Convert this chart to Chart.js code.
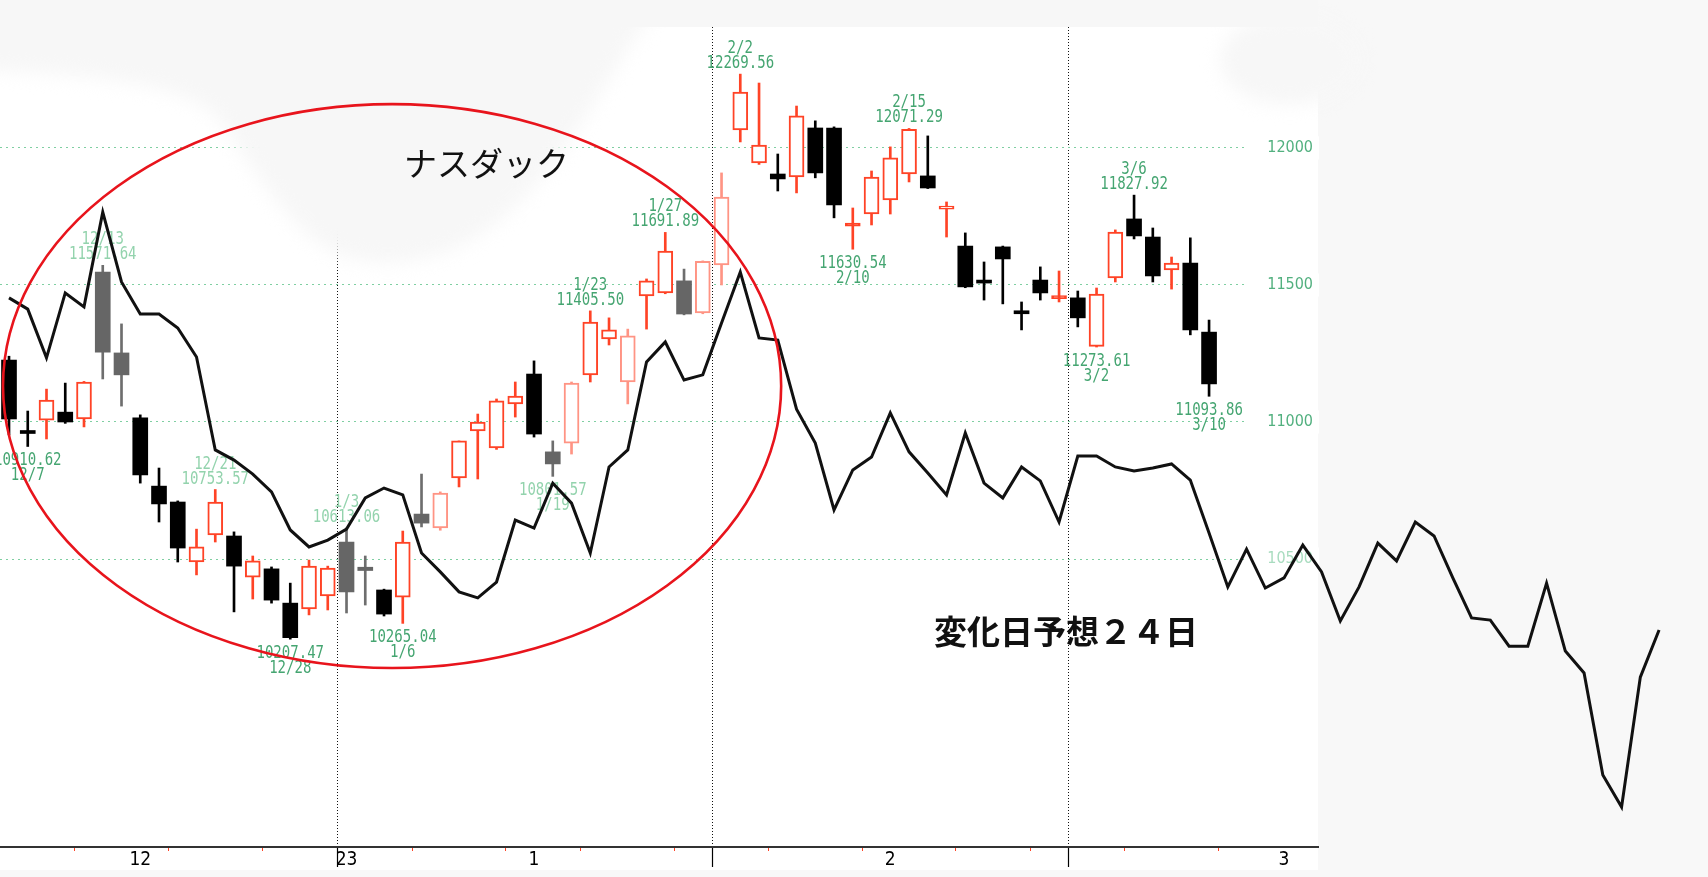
<!DOCTYPE html>
<html>
<head>
<meta charset="utf-8">
<title>ナスダック 変化日予想</title>
<script src="https://cdn.jsdelivr.net/npm/chart.js@4.4.1/dist/chart.umd.min.js"></script>
<style>
html, body {
    margin: 0;
    padding: 0;
    background: #fff;
}
#chart {
    display: block;
}
</style>
</head>
<body>
<canvas id="chart" width="1708" height="877"></canvas>
<script>
// trading days shown as candles
const days = ['12/6','12/7','12/8','12/9','12/12','12/13','12/14','12/15','12/16','12/19','12/20','12/21','12/22','12/23','12/27','12/28','12/29','12/30',
    '1/3','1/4','1/5','1/6','1/9','1/10','1/11','1/12','1/13','1/17','1/18','1/19','1/20','1/23','1/24','1/25','1/26','1/27','1/30','1/31',
    '2/1','2/2','2/3','2/6','2/7','2/8','2/9','2/10','2/13','2/14','2/15','2/16','2/17','2/21','2/22','2/23','2/24','2/27','2/28',
    '3/1','3/2','3/3','3/6','3/7','3/8','3/9','3/10'];

const opens = [11226,10962,11007,11036,11011,11547,11252,11015,10766,10708,10489,10588,10584,10434,10464,10339,10318,10365,
    10562,10470,10387,10361,10664,10613,10796,10967,10905,11066,11175,10891,10923,11172,11303,11146,11460,11471,11515,11398,
    11573,12066,11945,11905,11894,12073,12073,11715,11759,11810,11905,11898,11777,11642,11517,11639,11405,11518,11450,
    11453,11276,11526,11741,11675,11555,11580,11328];
const highs = [11240,11040,11120,11142,11148,11571.64,11358,11026,10832,10712,10609,10753.57,10599,10511,10471,10412,10496,10474,
    10613.06,10511,10390,10602,10810,10745,10931,11029,11084,11146,11223,10931,11146,11405.5,11380,11339,11522,11691.89,11558,11588,
    11909,12269.56,12237,11978,12153,12099,12077,11781,11916,12004,12071.29,12044,11803,11690,11584,11642,11438,11566,11551,
    11478,11489,11701,11827.92,11708,11602,11672,11372];
const lows = [10953,10910.62,10938,10995,10982,11157,11058,10777,10635,10489,10442,10562,10307,10354,10339,10207.47,10296,10314,
    10303,10332,10292,10265.04,10617,10605,10763,10792,10900,11018,10945,10801.57,10883,11146,11281,11066,11339,11468,11391,11395,
    11500,12022,11940,11843,11836,11891,11745,11630.54,11719,11759,11876,11852,11675,11490,11445,11431,11336,11445,11438,
    11347,11273.61,11511,11668,11511,11485,11318,11093.86];
const closes = [11011,10958,11080,11000,11146,11255,11172,10807,10701,10540,10544,10708,10474,10493,10350,10213,10474,10467,
    10380,10458,10299,10562,10631,10741,10931,11000,11077,11095,10956,10847,11142,11365,11336,11314,11515,11624,11394,11586,
    11821,12204,12011,11887,12117,11909,11792,11720,11894,11964,12068,11854,11788,11493,11507,11595,11395,11471,11456,
    11380,11467,11693,11679,11533,11580,11336,11139];
// k = black, g = grey, r = red hollow, p = pale red hollow
const tones = [...'kkrkrggkkkrrkrkkrr' + 'ggkrgprrrrkgprrprrgp' + 'prrkrkkrrrrkrkkkkkr' + 'krrkkrkk'];

// forecast line, one point per trading day from 12/6
const forecast = [11453,11412,11234,11471,11420,11766,11511,11394,11394,11343,
    11237,10898,10861,10810,10745,10606,10544,10569,10609,10723,
    10759,10734,10522,10453,10380,10358,10416,10642,10613,10777,
    10704,10522,10836,10898,11219,11292,11153,11172,11361,11547,
    11307,11299,11047,10923,10679,10825,10872,11033,10891,10814,
    10734,10960,10777,10723,10836,10785,10635,10876,10876,10836,
    10821,10832,10847,10788,10595,10398,10536,10394,10431,10551,
    10453,10274,10398,10558,10493,10635,10584,10431,10285,10277,
    10182,10182,10412,10164,10084,9712,9595,10069,10241];

// marked highs / lows
const markDays = ['12/7','12/13','12/21','12/28','1/3','1/6','1/19','1/23','1/27','2/2','2/10','2/15','3/2','3/6','3/10'];
const markValues = [10910.62,11571.64,10753.57,10207.47,10613.06,10265.04,10801.57,11405.50,11691.89,12269.56,11630.54,12071.29,11273.61,11827.92,11093.86];
const markSides = ['low','high','high','low','high','low','low','high','high','high','low','high','low','high','low'];
const markFaint = [0,1,1,0,1,0,1,0,0,0,0,0,0,0,0];

// axes
const yTicks = [10500, 11000, 11500, 12000];
const monthLabels = ['12', '23', '1', '2', '3'];
const monthLabelAt = [7, 18, 28, 47, 68];
const monthBreaks = [17.5, 37.5, 56.5];
const weekBreaks = [3.5, 8.5, 13.5, 21.5, 26.5, 30.5, 35.5, 40.5, 45.5, 50.5, 54.5, 59.5, 64.5];

const X_MIN = -0.48, X_MAX = 69.81;
const Y_MIN = 9449, Y_MAX = 12540;

const fills = {k: '#000000', g: '#666666', r: '#ffffff', p: '#ffffff'};
const lines = {k: '#000000', g: '#6e6e6e', r: '#ff4326', p: '#ff9484'};
const narrow = "'DejaVu Sans Condensed', 'DejaVu Sans', sans-serif";

const setX = (s) => { s.min = X_MIN; s.max = X_MAX; };
const tickList = (list) => (s) => { setX(s); s.ticks = list.map(v => ({value: v})); };
// a near-doji is drawn as a solid bar
const bodyFill = days.map((d, i) => Math.abs(opens[i] - closes[i]) < 8 ? lines[tones[i]] : fills[tones[i]]);

const paper = {
    id: 'paper',
    beforeDraw(chart) {
        const ctx = chart.ctx, area = chart.chartArea;
        ctx.save();
        ctx.fillStyle = '#ffffff';
        ctx.fillRect(0, 0, chart.width, chart.height);
        ctx.fillStyle = '#f8f8f8';
        ctx.fillRect(area.right, 0, chart.width - area.right, chart.height);
        ctx.fillRect(0, 870, chart.width, chart.height - 870);
        ctx.restore();
    },
    beforeDatasetsDraw(chart) {
        // grey wash of the screenshot, lying over the grid
        const ctx = chart.ctx, area = chart.chartArea;
        ctx.save();
        ctx.filter = 'blur(9px)';
        ctx.fillStyle = '#f7f7f7';
        ctx.beginPath();
        ctx.moveTo(-20, -20);
        ctx.lineTo(680, -20);
        ctx.lineTo(640, 30);
        ctx.bezierCurveTo(600, 90, 560, 170, 500, 220);
        ctx.bezierCurveTo(450, 262, 390, 272, 340, 255);
        ctx.bezierCurveTo(290, 235, 250, 160, 215, 115);
        ctx.bezierCurveTo(180, 85, 100, 75, -20, 70);
        ctx.closePath();
        ctx.fill();
        ctx.beginPath();
        ctx.ellipse(1290, 60, 70, 45, 0, 0, Math.PI * 2);
        ctx.fill();
        ctx.filter = 'none';
        ctx.fillRect(0, 0, area.right, 27);
        ctx.restore();
    }
};

const notes = {
    id: 'notes',
    beforeDatasetsDraw(chart) {
        const {ctx, scales: {x, y}} = chart;
        ctx.save();
        ctx.font = "18px 'DejaVu Sans Mono'";
        ctx.textAlign = 'center';
        ctx.textBaseline = 'alphabetic';
        markDays.forEach((d, k) => {
            const px = x.getPixelForValue(days.indexOf(d));
            const py = y.getPixelForValue(markValues[k]);
            const val = markValues[k].toFixed(2);
            const rows = markSides[k] === 'high'
                ? [[d, py - 21], [val, py - 6]]
                : [[val, py + 19], [d, py + 34]];
            ctx.fillStyle = markFaint[k] ? '#93d3ad' : '#45a571';
            rows.forEach(([t, ty]) => {
                ctx.save();
                ctx.translate(px, ty);
                ctx.scale(0.78, 1);
                ctx.fillText(t, 0, 0);
                ctx.restore();
            });
        });
        ctx.restore();
    }
};

const overlay = {
    id: 'overlay',
    afterDatasetsDraw(chart) {
        const {ctx, scales: {x, y}} = chart;
        // red ring around the Dec-Jan stretch
        const cx = x.getPixelForValue(20.43), cy = y.getPixelForValue(11131);
        const rx = x.getPixelForValue(20.43 + 20.75) - cx;
        const ry = cy - y.getPixelForValue(11131 + 1029);
        ctx.save();
        ctx.strokeStyle = '#e8141c';
        ctx.lineWidth = 2.6;
        ctx.beginPath();
        ctx.ellipse(cx, cy, rx, ry, 0, 0, Math.PI * 2);
        ctx.stroke();

        ctx.fillStyle = '#111';
        ctx.textAlign = 'left';
        ctx.textBaseline = 'middle';
        ctx.font = "33px 'Noto Sans CJK JP'";
        ctx.fillText('ナスダック', 404, 163);
        ctx.font = "bold 33px 'Noto Sans CJK JP'";
        ctx.fillText('変化日予想２４日', 934, 631);
        ctx.restore();
    }
};

const ctx = document.getElementById('chart').getContext('2d');
const chart = new Chart(ctx, {
    type: 'bar',
    data: {
        datasets: [
            {
                type: 'line',
                label: '予想',
                data: forecast.map((v, i) => ({x: i, y: v})),
                borderColor: '#111111',
                borderWidth: 3,
                pointRadius: 0,
                tension: 0,
                clip: false,
                order: 0
            },
            {
                label: 'body',
                data: days.map((d, i) => ({x: i, y: [opens[i], closes[i]]})),
                backgroundColor: bodyFill,
                borderColor: tones.map(t => lines[t]),
                borderWidth: tones.map(t => (t === 'r' || t === 'p') ? 2 : 0),
                borderSkipped: false,
                barThickness: 15,
                minBarLength: 3,
                grouped: false,
                order: 1
            },
            {
                label: 'wick',
                data: days.map((d, i) => ({x: i, y: [lows[i], highs[i]]})),
                backgroundColor: tones.map(t => lines[t]),
                borderWidth: 0,
                barThickness: 2,
                grouped: false,
                order: 2
            }
        ]
    },
    options: {
        responsive: false,
        animation: false,
        layout: {
            padding: {right: 390}
        },
        plugins: {
            legend: {display: false},
            tooltip: {enabled: false}
        },
        scales: {
            x: {
                type: 'linear',
                position: 'bottom',
                weight: 2,
                offset: false,
                bounds: 'data',
                afterDataLimits: setX,
                afterBuildTicks: tickList(monthLabelAt),
                afterFit: (s) => { s.height = 30; s.paddingLeft = 0; s.paddingRight = 0; },
                grid: {display: true, drawOnChartArea: false, drawTicks: false, offset: false},
                border: {display: true, color: '#333333', width: 2},
                ticks: {
                    autoSkip: false,
                    maxRotation: 0,
                    padding: 2,
                    color: '#000',
                    font: {family: narrow, size: 19},
                    callback: (v) => monthLabels[monthLabelAt.indexOf(v)]
                }
            },
            months: {
                type: 'linear',
                position: 'bottom',
                weight: 0,
                offset: false,
                bounds: 'data',
                afterDataLimits: setX,
                afterBuildTicks: tickList(monthBreaks),
                afterFit: (s) => { s.height = 0; },
                grid: {color: '#111111', lineWidth: 1, tickLength: 20, tickColor: '#000', tickWidth: 1.2, offset: false},
                border: {display: false, dash: [1, 2]},
                ticks: {display: false}
            },
            weeks: {
                type: 'linear',
                position: 'bottom',
                weight: 1,
                offset: false,
                bounds: 'data',
                afterDataLimits: setX,
                afterBuildTicks: tickList(weekBreaks),
                afterFit: (s) => { s.height = 0; },
                grid: {drawOnChartArea: false, tickLength: 4, tickColor: '#ff4326', tickWidth: 1, offset: false},
                border: {display: false},
                ticks: {display: false}
            },
            y: {
                type: 'linear',
                position: 'right',
                min: Y_MIN,
                max: Y_MAX,
                afterBuildTicks: (s) => { s.ticks = yTicks.map(v => ({value: v})); },
                afterFit: (s) => { s.width = 0; s.paddingTop = 0; s.paddingBottom = 0; },
                grid: {color: '#7fcfa2', lineWidth: 1, drawTicks: false},
                border: {display: false, dash: [2, 4]},
                ticks: {
                    mirror: true,
                    padding: -5,
                    color: (c) => (c.tick && c.tick.value === 10500) ? '#a8dcbf' : '#52b07f',
                    font: {family: narrow, size: 16},
                    callback: (v) => String(v),
                    showLabelBackdrop: true,
                    backdropColor: '#ffffff',
                    backdropPadding: {top: 2, bottom: 2, left: 22, right: 6}
                }
            }
        }
    },
    plugins: [paper, notes, overlay]
});
</script>
</body>
</html>
